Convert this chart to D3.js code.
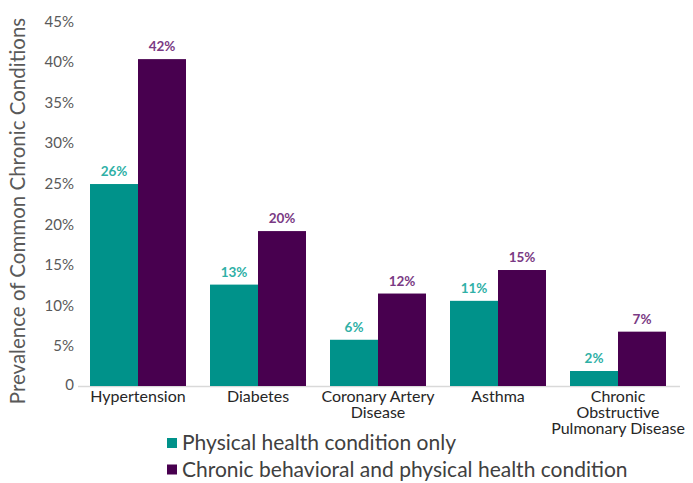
<!DOCTYPE html>
<html><head><meta charset="utf-8">
<script src="https://cdn.jsdelivr.net/npm/d3@7"></script>
<style>body{margin:0;background:#fff}svg{display:block;font-family:Lato,sans-serif}</style>
</head><body><svg id="c" width="693" height="483"></svg>
<script>
const categories = [["Hypertension"],["Diabetes"],["Coronary Artery","Disease"],["Asthma"],["Chronic","Obstructive","Pulmonary Disease"]];
const seriesNames = ["Physical health condition only","Chronic behavioral and physical health condition"];
const physicalOnly = [24.9, 12.5, 5.7, 10.5, 1.85];
const behavioralPhysical = [40.3, 19.1, 11.4, 14.3, 6.7];
const physicalLabels = ["26%","13%","6%","11%","2%"];
const behavioralLabels = ["42%","20%","12%","15%","7%"];
const yTicks = [0,5,10,15,20,25,30,35,40,45];
const colors = ["#00928a","#48004f"];
const labelColors = ["#2fb0a6","#7a3a84"];

const svg = d3.select("#c");
const x = d3.scaleBand().domain(d3.range(categories.length)).range([78,678]).paddingInner(0).paddingOuter(0);
const y = d3.scaleLinear().domain([0,45]).range([386,21]);
const inner = d3.scaleBand().domain([0,1]).range([12,108]);

// baseline
svg.append("line").attr("x1",78).attr("x2",680).attr("y1",y(0)+0.5).attr("y2",y(0)+0.5)
  .attr("stroke","#d9d9d9").attr("stroke-width",1.5);

// y axis ticks
const yAxis = d3.axisLeft(y).tickValues(yTicks).tickSize(0).tickPadding(0)
  .tickFormat(d => d===0 ? "0" : d+"%");
const ga = svg.append("g").attr("transform","translate(74,0)").call(yAxis);
ga.select(".domain").remove();
ga.selectAll("text").attr("font-family","Lato").attr("font-size",15).attr("fill","#595959").attr("dy","0.35em");
ga.selectAll(".tick").filter(d=>d===0).select("text").attr("dy","0.2em");

// bars
const series = [physicalOnly, behavioralPhysical];
const labels = [physicalLabels, behavioralLabels];
series.forEach((vals, s) => {
  const g = svg.append("g");
  g.selectAll("rect").data(vals).join("rect")
    .attr("x",(d,i)=>x(i)+inner(s))
    .attr("y",d=>y(d))
    .attr("width",inner.bandwidth())
    .attr("height",d=>y(0)-y(d))
    .attr("fill",colors[s]);
  g.selectAll("text").data(vals).join("text")
    .attr("x",(d,i)=>x(i)+inner(s)+inner.bandwidth()/2)
    .attr("y",d=>y(d)-8)
    .attr("text-anchor","middle")
    .attr("font-size",13.5).attr("font-weight","bold")
    .attr("fill",labelColors[s])
    .text((d,i)=>labels[s][i]);
});

// category labels
categories.forEach((lines,i) => {
  const t = svg.append("text").attr("x",x(i)+x.bandwidth()/2).attr("y",402)
    .attr("text-anchor","middle").attr("font-size",16).attr("fill","#262626");
  lines.forEach((l,j)=> t.append("tspan").attr("x",x(i)+x.bandwidth()/2).attr("y",402+j*16).text(l));
});

// y title
svg.append("text").attr("transform","translate(25,211) rotate(-90)")
  .attr("text-anchor","middle").attr("font-size",20.5).attr("fill","#595959")
  .text("Prevalence of Common Chronic Conditions");

// legend
seriesNames.forEach((n,s) => {
  const ly = 443 + s*26.5;
  svg.append("rect").attr("x",167).attr("y",ly-5).attr("width",10).attr("height",10).attr("fill",colors[s]);
  svg.append("text").attr("x",182).attr("y",ly).attr("dy","0.35em").attr("font-size",21)
    .attr("fill","#404040").text(n);
});
</script></body></html>
